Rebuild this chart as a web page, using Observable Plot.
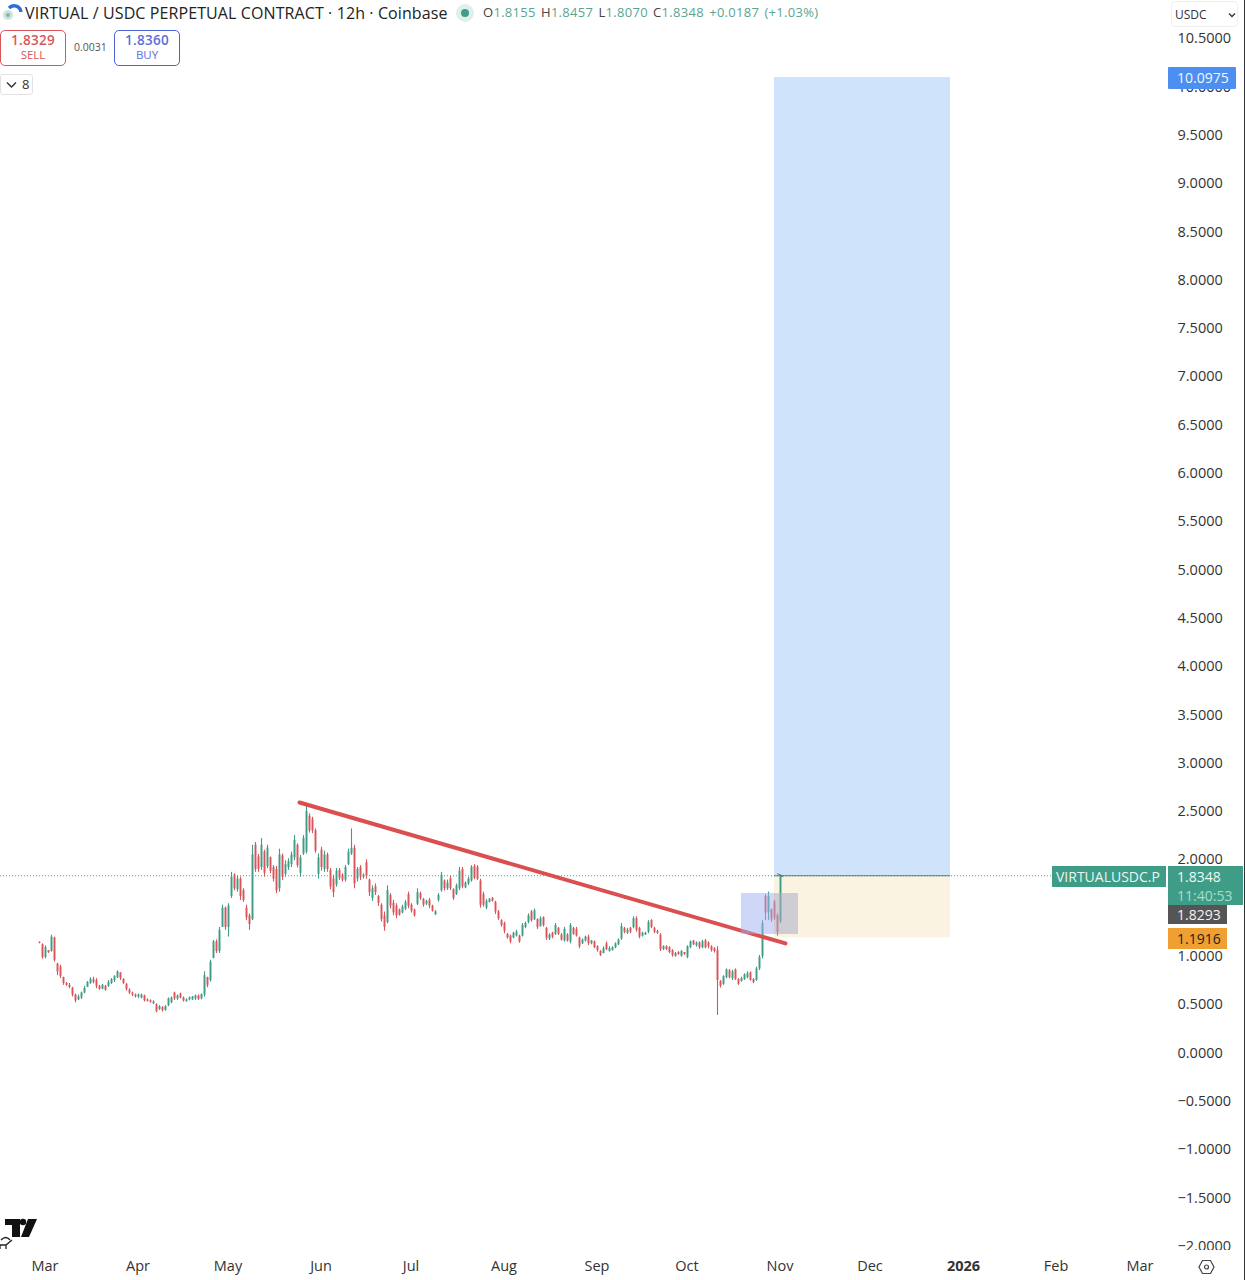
<!DOCTYPE html>
<html><head><meta charset="utf-8">
<script src="https://cdn.jsdelivr.net/npm/d3@7"></script>
<script src="https://cdn.jsdelivr.net/npm/@observablehq/plot@0.6"></script>
<style>
html,body{margin:0;padding:0;background:#fff;width:1245px;height:1280px;overflow:hidden}
body{position:relative;font-family:"Open Sans",sans-serif;color:#333}
svg{display:block}
.a{position:absolute;white-space:nowrap;line-height:1}
.tag{position:absolute;box-sizing:border-box;font-size:14px;padding-left:9px;white-space:nowrap}
.btn{position:absolute;box-sizing:border-box;border-radius:5px;text-align:center;border:1px solid;background:#fff}
.btn b{display:block;font-weight:600;font-size:13.5px;line-height:15px;margin-top:2px;letter-spacing:.3px}
.btn span{display:block;font-size:11.5px;line-height:14px}
</style></head><body>
<div id="chart"></div>
<script>
const highs=[1.15,1.13,1.11,1.06,1.22,1.20,.93,.91,.785,.73,
.72,.68,.61,.60,.63,.69,.74,.78,.785,.77,
.70,.71,.70,.75,.77,.80,.85,.83,.77,.72,
.665,.63,.61,.61,.61,.60,.56,.55,.54,.51,
.49,.48,.49,.57,.58,.63,.60,.62,.58,.56,
.58,.585,.60,.60,.61,.84,.785,.96,1.165,1.17,
1.30,1.53,1.51,1.545,1.87,1.855,1.83,1.82,1.70,1.53,
1.44,2.15,2.18,2.055,2.22,2.10,2.15,2.03,1.94,1.93,
2.11,2.06,1.99,2.01,2.08,2.25,2.165,2.045,2.25,2.56,
2.476,2.44,2.32,2.06,2.13,2.09,2.07,1.91,1.84,1.91,
1.91,1.855,1.94,2.11,2.32,2.15,1.92,1.94,1.855,2.0,
1.80,1.73,1.75,1.63,1.545,1.46,1.73,1.65,1.58,1.545,
1.49,1.53,1.58,1.665,1.545,1.49,1.70,1.665,1.60,1.58,
1.60,1.53,1.475,1.65,1.87,1.79,1.79,1.83,1.70,1.75,
1.92,1.92,1.77,1.82,1.94,1.95,1.94,1.80,1.665,1.59,
1.60,1.61,1.57,1.475,1.38,1.355,1.235,1.22,1.25,1.27,
1.22,1.34,1.355,1.44,1.475,1.49,1.39,1.41,1.41,1.30,
1.235,1.25,1.34,1.30,1.235,1.30,1.235,1.34,1.30,1.30,
1.20,1.18,1.21,1.22,1.165,1.16,1.11,1.06,1.10,1.15,
1.10,1.10,1.14,1.18,1.34,1.30,1.29,1.30,1.41,1.41,
1.30,1.25,1.25,1.37,1.38,1.30,1.27,1.235,1.11,1.11,
1.10,1.07,1.04,1.05,1.06,1.04,1.11,1.16,1.165,1.15,
1.15,1.165,1.175,1.15,1.11,1.09,1.10,.75,.80,.87,
.865,.855,.87,.77,.785,.82,.84,.84,.77,.89,
1.01,1.37,1.64,1.665,1.49,1.58,1.44,1.8457];
const lows=[1.13,.97,.975,1.03,1.044,.94,.80,.77,.70,.69,
.665,.58,.52,.544,.554,.613,.68,.71,.716,.665,
.65,.655,.64,.68,.71,.73,.77,.75,.71,.64,
.606,.585,.57,.565,.56,.527,.527,.516,.50,.416,
.44,.423,.433,.48,.51,.544,.544,.56,.527,.527,
.54,.544,.544,.544,.55,.58,.675,.734,.975,1.03,
1.03,1.30,1.27,1.20,1.60,1.68,1.665,1.58,1.56,1.37,
1.27,1.37,1.87,1.87,1.89,1.82,1.907,1.855,1.77,1.65,
1.665,1.786,1.82,1.89,1.92,1.99,1.917,1.82,2.045,2.06,
2.276,2.27,2.07,1.80,1.883,1.87,1.87,1.69,1.61,1.717,
1.786,1.77,1.77,1.94,2.045,1.70,1.77,1.786,1.80,1.80,
1.62,1.57,1.63,1.517,1.355,1.26,1.337,1.49,1.42,1.39,
1.417,1.441,1.475,1.493,1.448,1.406,1.527,1.58,1.51,1.527,
1.493,1.458,1.424,1.562,1.665,1.676,1.682,1.682,1.58,1.63,
1.682,1.70,1.70,1.734,1.769,1.793,1.786,1.50,1.51,1.483,
1.555,1.562,1.434,1.372,1.303,1.234,1.179,1.13,1.182,1.20,
1.137,1.20,1.286,1.337,1.355,1.372,1.279,1.303,1.303,1.165,
1.165,1.182,1.217,1.217,1.158,1.148,1.148,1.13,1.217,1.20,
1.079,1.124,1.148,1.113,1.12,1.079,1.044,.999,1.027,1.06,
1.044,1.055,1.079,1.113,1.165,1.234,1.227,1.234,1.286,1.251,
1.182,1.20,1.217,1.234,1.286,1.234,1.227,1.051,1.06,1.06,
1.027,.992,.992,1.01,.992,1.01,.975,1.079,1.113,1.096,
1.072,1.079,1.079,1.079,1.044,1.034,.389,.672,.70,.768,
.768,.751,.751,.70,.734,.751,.768,.744,.717,.744,
.854,.975,1.372,1.372,1.355,1.372,1.21,1.34];
const opens=[1.145,1.12,.99,1.06,1.05,1.19,.92,.89,.78,.72,
.70,.67,.60,.55,.57,.62,.68,.72,.76,.75,
.69,.66,.69,.69,.72,.75,.78,.83,.76,.71,
.65,.62,.60,.58,.57,.59,.55,.54,.51,.50,
.45,.47,.44,.49,.52,.62,.56,.61,.57,.53,
.55,.55,.56,.59,.56,.60,.78,.75,.98,1.15,
1.05,1.30,1.50,1.30,1.62,1.84,1.69,1.80,1.68,1.50,
1.42,1.38,2.15,2.03,1.92,2.08,1.93,2.02,1.92,1.90,
1.70,2.04,1.85,1.92,1.95,2.02,2.15,1.86,2.06,2.08,
2.45,2.42,2.30,1.85,2.10,1.90,2.05,1.89,1.80,1.74,
1.89,1.84,1.79,1.95,2.06,2.12,1.80,1.92,1.82,1.97,
1.79,1.60,1.72,1.62,1.53,1.42,1.35,1.63,1.55,1.52,
1.48,1.45,1.49,1.64,1.53,1.48,1.54,1.65,1.59,1.54,
1.58,1.52,1.43,1.58,1.68,1.78,1.70,1.80,1.69,1.64,
1.70,1.90,1.71,1.75,1.78,1.93,1.92,1.78,1.64,1.50,
1.56,1.60,1.56,1.46,1.37,1.34,1.23,1.21,1.19,1.21,
1.21,1.21,1.30,1.35,1.46,1.38,1.38,1.31,1.40,1.29,
1.18,1.24,1.23,1.29,1.22,1.16,1.22,1.15,1.29,1.28,
1.19,1.13,1.16,1.20,1.13,1.15,1.10,1.05,1.03,1.13,
1.05,1.06,1.09,1.12,1.18,1.29,1.24,1.29,1.30,1.39,
1.29,1.21,1.22,1.25,1.37,1.29,1.26,1.22,1.07,1.10,
1.09,1.06,1.00,1.04,1.00,1.04,.99,1.09,1.16,1.11,
1.14,1.09,1.16,1.14,1.10,1.08,1.06,.74,.71,.78,
.85,.77,.86,.76,.74,.76,.78,.83,.76,.75,
.87,1.0,1.62,1.45,1.48,1.56,1.42,1.36];
const closes=[1.135,.99,1.09,1.04,1.2,.96,.84,.79,.72,.70,
.68,.60,.54,.58,.62,.67,.73,.76,.73,.69,
.66,.70,.65,.73,.76,.79,.84,.77,.72,.66,
.62,.60,.58,.60,.60,.54,.535,.525,.53,.43,
.48,.44,.48,.56,.57,.56,.59,.57,.54,.55,
.57,.58,.59,.555,.605,.80,.70,.94,1.15,1.05,
1.27,1.5,1.3,1.52,1.82,1.70,1.80,1.62,1.58,1.40,
1.33,2.05,1.90,1.90,2.15,1.86,2.12,1.88,1.80,1.68,
2.05,1.82,1.95,1.98,2.05,2.20,1.94,2.02,2.22,2.50,
2.30,2.30,2.09,2.02,1.92,2.05,1.90,1.72,1.66,1.88,
1.81,1.79,1.92,2.08,2.12,1.75,1.90,1.82,1.84,1.83,
1.66,1.70,1.66,1.55,1.38,1.30,1.68,1.52,1.45,1.42,
1.43,1.51,1.56,1.52,1.47,1.42,1.66,1.60,1.53,1.57,
1.52,1.47,1.46,1.63,1.84,1.70,1.76,1.70,1.60,1.73,
1.88,1.72,1.76,1.80,1.92,1.81,1.80,1.53,1.53,1.57,
1.59,1.57,1.46,1.39,1.32,1.26,1.19,1.15,1.24,1.25,
1.15,1.32,1.34,1.42,1.37,1.47,1.30,1.39,1.32,1.19,
1.22,1.20,1.32,1.23,1.17,1.28,1.16,1.32,1.23,1.21,
1.10,1.17,1.20,1.13,1.16,1.09,1.06,1.01,1.08,1.07,
1.08,1.09,1.13,1.17,1.31,1.25,1.27,1.25,1.39,1.27,
1.20,1.24,1.24,1.35,1.30,1.25,1.24,1.07,1.10,1.07,
1.04,1.01,1.03,1.02,1.05,1.02,1.10,1.15,1.12,1.14,
1.09,1.15,1.09,1.10,1.06,1.05,.75,.69,.79,.86,
.78,.84,.76,.71,.77,.81,.82,.75,.73,.87,
.99,1.34,1.45,1.62,1.38,1.40,1.25,1.8348];

const firstCandle="2025-02-27";
const priceTicks=[10.5,10,9.5,9,8.5,8,7.5,7,6.5,6,5.5,5,4.5,4,3.5,3,2.5,2,1,0.5,0,-0.5,-1,-1.5,-2];
const monthTicks=["2025-03-01","2025-04-01","2025-05-01","2025-06-01","2025-07-01","2025-08-01","2025-09-01","2025-10-01","2025-11-01","2025-12-01","2026-02-01","2026-03-01"];
const monthLabels=["Mar","Apr","May","Jun","Jul","Aug","Sep","Oct","Nov","Dec","Feb","Mar"];
const yearTick="2026-01-01", yearLabel="2026";

const lastPrice=1.8348, targetPrice=10.0975, stopPrice=1.1916;
const positionStart="2025-10-30", positionEnd="2025-12-27T16:00Z";
const zoneTop=1.651, zoneBottom=1.227, zoneStart="2025-10-19", zoneSplit=positionStart, zoneEnd="2025-11-07";
const trendDates=["2025-05-24T16:00Z","2025-11-02T16:00Z"], trendPrices=[2.593,1.134];
const arrowDates=["2025-10-31T00:00Z","2025-11-01T18:00Z"], arrowPrices=[1.856,1.825];
const lastLineEnd="2026-01-31";

const day=864e5, t0=Date.parse(firstCandle);
const D=s=>new Date(s);
const candles=highs.map((h,i)=>({date:new Date(t0+i*day),high:h,low:lows[i],open:opens[i],close:closes[i]}));
const GREEN="#3f9c86", RED="#d9555a";
const col=d=>d.close>=d.open?GREEN:RED;
const monthMap=new Map(monthTicks.map((m,i)=>[D(m).getTime(),monthLabels[i]]));
const fmtPrice=v=>(v<0?"\u2212":"")+Math.abs(v).toFixed(4);

const chart=Plot.plot({
  width:1245,height:1280,marginTop:0,marginLeft:0,marginRight:78,marginBottom:30,
  style:{fontFamily:'"Open Sans",sans-serif',fontSize:"14.5px",color:"#333",background:"#fff",overflow:"visible"},
  x:{type:"time",domain:[D("2025-02-14"),D("2026-03-10")],range:[0,1167],axis:null},
  y:{domain:[-2.0445,10.895],range:[1250,0],axis:null},
  marks:[
    Plot.axisY(priceTicks,{anchor:"right",tickSize:0,tickPadding:10,tickFormat:fmtPrice,label:null}),
    Plot.rect([0],{x1:()=>D("2025-02-14"),x2:()=>D("2026-06-01"),y1:()=>-2.0445,y2:()=>-2.5,fill:"#fff"}),
    Plot.rect([0],{x1:()=>D(positionStart),x2:()=>D(positionEnd),y1:()=>lastPrice,y2:()=>targetPrice,fill:"#cfe3fa"}),
    Plot.rect([0],{x1:()=>D(positionStart),x2:()=>D(positionEnd),y1:()=>stopPrice,y2:()=>lastPrice,fill:"#fbf3e2"}),
    Plot.ruleY([lastPrice],{x1:D("2025-02-14"),x2:D(lastLineEnd),stroke:GREEN,strokeDasharray:"1 2",strokeWidth:1}),
    Plot.ruleY([lastPrice],{x1:D(positionStart),x2:D(positionEnd),stroke:"#5a7a70",strokeWidth:1}),
    Plot.ruleX(candles,{x:"date",y1:"low",y2:"high",stroke:col,strokeWidth:1.1}),
    Plot.ruleX(candles,{x:"date",y1:"open",y2:"close",stroke:col,strokeWidth:1.9}),
    Plot.line(trendDates.map((d,i)=>({d:D(d),p:trendPrices[i]})),{x:"d",y:"p",stroke:"#da4f4f",strokeWidth:4,strokeLinecap:"round"}),
    Plot.line(arrowDates.map((d,i)=>({d:D(d),p:arrowPrices[i]})),{x:"d",y:"p",stroke:"#667",strokeWidth:1}),
    Plot.rect([0],{x1:()=>D(zoneStart),x2:()=>D(zoneSplit),y1:()=>zoneBottom,y2:()=>zoneTop,fill:"#9fb0f2",fillOpacity:.5}),
    Plot.rect([0],{x1:()=>D(zoneSplit),x2:()=>D(zoneEnd),y1:()=>zoneBottom,y2:()=>zoneTop,fill:"#a9adc8",fillOpacity:.55}),
    Plot.axisX(monthTicks.map(D),{anchor:"bottom",tickSize:0,tickPadding:10,tickFormat:d=>monthMap.get(+d),label:null,dx:-0.5}),
    Plot.axisX([D(yearTick)],{anchor:"bottom",tickSize:0,tickPadding:10,tickFormat:()=>yearLabel,fontWeight:700,label:null})
  ]
});
document.getElementById("chart").appendChild(chart);

const overlay=`
<svg class="a" style="left:2px;top:2px" width="22" height="22" viewBox="0 0 22 22"><circle cx="6" cy="13" r="5" fill="#cfe3dc"/><circle cx="6" cy="13" r="2" fill="#7fb8a8"/><path d="M7 6 A7 7 0 0 1 19 10" fill="none" stroke="#2a6fd6" stroke-width="3.4"/></svg>
<div class="a" style="left:25px;top:5px;font-size:16px;color:#222;font-weight:500;letter-spacing:.1px">VIRTUAL / USDC PERPETUAL CONTRACT · 12h · Coinbase</div>
<div class="a" style="left:456px;top:4px;width:18px;height:18px;border-radius:9px;background:#dff0ea"></div>
<div class="a" style="left:461px;top:9px;width:8px;height:8px;border-radius:4px;background:#3f9c86"></div>
<div class="a" style="left:483px;top:6px;font-size:13px;color:#5aa592;letter-spacing:.3px;word-spacing:1.5px"><span style="color:#444">O</span>1.8155 <span style="color:#444">H</span>1.8457 <span style="color:#444">L</span>1.8070 <span style="color:#444">C</span>1.8348 +0.0187 (+1.03%)</div>
<div class="btn" style="left:0;top:30px;width:66px;height:36px;border-color:#d9555a;color:#d9555a"><b>1.8329</b><span>SELL</span></div>
<div class="a" style="left:74px;top:42px;font-size:10.5px;color:#555">0.0031</div>
<div class="btn" style="left:114px;top:30px;width:66px;height:36px;border-color:#4a63d8;color:#5a70dc"><b>1.8360</b><span>BUY</span></div>
<div class="a" style="left:0;top:74px;width:33px;height:21px;box-sizing:border-box;border:1px solid #e2e2e2;border-radius:3px;background:#fff;font-size:13px;padding:3px 0 0 21px;color:#333">8</div>
<svg class="a" style="left:6px;top:81px" width="11" height="8"><path d="M1 1.5 L5.5 6 L10 1.5" fill="none" stroke="#333" stroke-width="1.4"/></svg>
<div class="a" style="left:1171px;top:1px;width:67px;height:26px;box-sizing:border-box;border:1px solid #f0f0f0;border-radius:4px;background:#fff;font-size:12px;padding:7px 0 0 3px;color:#333">USDC</div>
<svg class="a" style="left:1228px;top:12px" width="8" height="6"><path d="M1 1.5 L4 4.5 L7 1.5" fill="none" stroke="#333" stroke-width="1.3"/></svg>
<div class="tag" style="left:1168px;top:67px;width:68px;height:22px;background:#4c8ff0;color:#f2f7ff;line-height:22px;border-radius:1px">10.0975</div>
<div class="tag" style="left:1052px;top:866px;width:114px;height:21px;background:#3f9c86;color:#e9f6f2;line-height:21px;padding-left:4px">VIRTUALUSDC.P</div>
<div class="tag" style="left:1168px;top:866px;width:75px;height:39px;background:#3f9c86;color:#eefaf6;line-height:19px;padding-top:1px">1.8348<br><span style="color:#a8dccd">11:40:53</span></div>
<div class="tag" style="left:1168px;top:905px;width:59px;height:19px;background:#555;color:#f2f2f2;line-height:19px">1.8293</div>
<div class="tag" style="left:1168px;top:928px;width:59px;height:21px;background:#f0a030;color:#222;line-height:21px">1.1916</div>
<svg class="a" style="left:0;top:1216px" width="40" height="36" viewBox="0 0 40 36"><path d="M5 3 H20 V21 H12 V9 H5 Z" fill="#111"/><circle cx="23" cy="6" r="3.2" fill="#111"/><path d="M28 3 H37 L29 21 H21 Z" fill="#111"/><path d="M1 24 Q6 19 10 24 M0 33 V29 H6 L12 24 M6 29 V33" fill="none" stroke="#222" stroke-width="1.3"/></svg>
<svg class="a" style="left:1198px;top:1259px" width="17" height="16" viewBox="0 0 17 16"><path d="M4.5 1.5 H12.5 L16 8 L12.5 14.5 H4.5 L1 8 Z" fill="none" stroke="#444" stroke-width="1.2"/><circle cx="8.5" cy="8" r="2" fill="none" stroke="#444" stroke-width="1.2"/></svg>
<div class="a" style="left:1244px;top:0;width:1px;height:1280px;background:#333"></div>`;
document.body.insertAdjacentHTML("beforeend",overlay);
</script>
</body></html>
